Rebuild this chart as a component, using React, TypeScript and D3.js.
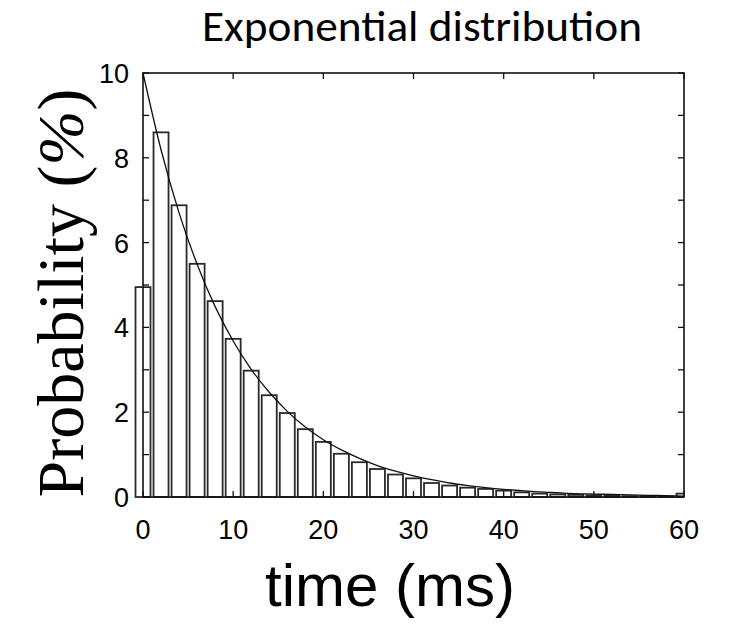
import React from "react";
import * as d3 from "d3";

const binTimes = [0, 2, 4, 6, 8, 10, 12, 14, 16, 18, 20, 22, 24, 26, 28, 30, 32, 34, 36, 38, 40, 42, 44, 46, 48, 50, 52, 54, 56, 58, 60];
const binProb = [4.95, 8.6, 6.88, 5.5, 4.62, 3.73, 2.98, 2.4, 1.98, 1.6, 1.3, 1.02, 0.82, 0.66, 0.53, 0.44, 0.33, 0.27, 0.22, 0.19, 0.15, 0.11, 0.08, 0.06, 0.05, 0.04, 0.03, 0.02, 0.02, 0.01, 0.08];
const curveTimes = [0, 2, 4, 6, 8, 10, 12, 14, 16, 18, 20, 22, 24, 26, 28, 30, 32, 34, 36, 38, 40, 42, 44, 46, 48, 50, 52, 54, 56, 58, 60];
const curveProb = [10, 8.19, 6.7, 5.49, 4.49, 3.68, 3.01, 2.47, 2.02, 1.65, 1.35, 1.11, 0.91, 0.74, 0.61, 0.5, 0.41, 0.33, 0.27, 0.22, 0.18, 0.15, 0.12, 0.1, 0.08, 0.07, 0.06, 0.05, 0.04, 0.03, 0.02];
const xTickValues = [0, 10, 20, 30, 40, 50, 60];
const yTickValues = [0, 2, 4, 6, 8, 10];
const yMinorTicks = [0, 1, 2, 3, 4, 5, 6, 7, 8, 9, 10];
const titleText = "Exponential distribution";
const xLabel = "time (ms)";
const yLabelMain = "Probability (";
const yLabelPct = "%";
const yLabelEnd = ")";

export default function App() {
  const W = 730, H = 631;
  const left = 143, right = 684, top = 73, bottom = 497;
  const x = d3.scaleLinear().domain([0, 60]).range([left, right]);
  const y = d3.scaleLinear().domain([0, 10]).range([bottom, top]);
  const barW = 15;
  const tick = 6;
  const line = d3
    .line<number>()
    .x((_, i) => x(curveTimes[i]))
    .y((d) => y(d))
    .curve(d3.curveMonotoneX);
  const sans = "'Liberation Sans', Arial, sans-serif";

  return (
    <svg width={W} height={H} style={{ position: "absolute", left: 0, top: 0, background: "#fff" }}>
      <defs>
        <clipPath id="plotclip">
          <rect x={0} y={0} width={right} height={H} />
        </clipPath>
      </defs>
      <text
        x={422}
        y={41}
        textAnchor="middle"
        fontFamily="Carlito, Lato, 'Open Sans', sans-serif"
        fontSize={44}
        textLength={440}
        lengthAdjust="spacingAndGlyphs"
        fill="#000"
      >
        {titleText}
      </text>
      <g clipPath="url(#plotclip)">
        {binTimes.map((t, i) => (
          <rect
            key={i}
            x={x(t) - barW / 2}
            y={y(binProb[i])}
            width={barW}
            height={bottom - y(binProb[i])}
            fill="#fff"
            stroke="#2a2a2a"
            strokeWidth={1.8}
          />
        ))}
      </g>
      <path d={line(curveProb) || ""} fill="none" stroke="#111" strokeWidth={1.3} />
      <rect x={left} y={top} width={right - left} height={bottom - top} fill="none" stroke="#111" strokeWidth={1.6} />
      {yMinorTicks.map((v) => (
        <g key={"y" + v}>
          <line x1={left} x2={left + tick} y1={y(v)} y2={y(v)} stroke="#111" strokeWidth={1.3} />
          <line x1={right} x2={right - tick} y1={y(v)} y2={y(v)} stroke="#111" strokeWidth={1.3} />
        </g>
      ))}
      {xTickValues.map((v) => (
        <g key={"x" + v}>
          <line x1={x(v)} x2={x(v)} y1={bottom} y2={bottom - tick} stroke="#111" strokeWidth={1.3} />
          <line x1={x(v)} x2={x(v)} y1={top} y2={top + tick} stroke="#111" strokeWidth={1.3} />
          <text x={x(v)} y={539} textAnchor="middle" fontFamily={sans} fontSize={27} fill="#000">
            {v}
          </text>
        </g>
      ))}
      {yTickValues.map((v) => (
        <text key={"yl" + v} x={129} y={y(v) + 10} textAnchor="end" fontFamily={sans} fontSize={27} fill="#000">
          {v}
        </text>
      ))}
      <text
        transform={`translate(83, 293) rotate(-90)`}
        textAnchor="middle"
        fontFamily="'Liberation Serif', 'Times New Roman', serif"
        fontSize={66}
        fill="#000"
      >
        {yLabelMain}
        <tspan fontStyle="italic">{yLabelPct}</tspan>
        {yLabelEnd}
      </text>
      <text x={390} y={606} textAnchor="middle" fontFamily={sans} fontSize={60} fill="#000">
        {xLabel}
      </text>
    </svg>
  );
}
